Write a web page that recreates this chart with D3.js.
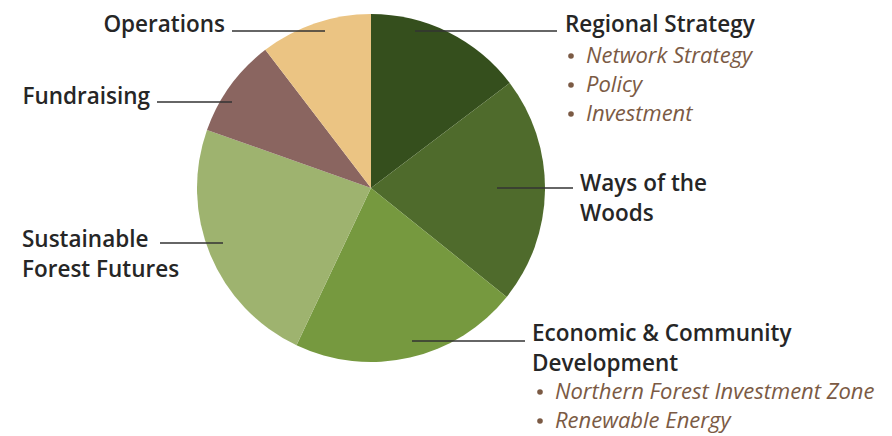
<!DOCTYPE html>
<html lang="en">
<head>
<meta charset="UTF-8"/>
<title>Program areas pie</title>
<script src="https://d3js.org/d3.v7.min.js"></script>
<style>
  body { margin: 0; background: #fff; }
  .lbl { font-family: "Open Sans", sans-serif; font-size: 22.5px; font-weight: 600; fill: #262626; }
  .sub { font-family: "Open Sans", sans-serif; font-size: 22px; font-style: italic; fill: #7b5a44; }
</style>
</head>
<body>
<div id="chart"></div>
<script>
// slice shares (percent), clockwise from 12 o'clock
var categories = ["Regional Strategy", "Ways of the Woods", "Economic & Community Development",
                  "Sustainable Forest Futures", "Fundraising", "Operations"];
var values = [14.7, 21.1, 21.3, 23.4, 9.2, 10.4];
var colors = ["#354f1d", "#4f6b2c", "#76993f", "#9eb36f", "#8a6560", "#ebc483"];
var subItems = [["Network Strategy", "Policy", "Investment"], [], ["Northern Forest Investment Zone", "Renewable Energy"], [], [], []];

var w = 892, h = 436;
var cx = 371, cy = 188, r = 174;

var svg = d3.select("#chart").append("svg")
    .attr("width", w).attr("height", h);

var pie = d3.pie().sort(null).value(function(d) { return d; });
var arc = d3.arc().innerRadius(0).outerRadius(r);

var g = svg.append("g").attr("transform", "translate(" + cx + "," + cy + ")");
g.selectAll("path")
    .data(pie(values))
    .enter().append("path")
    .attr("d", arc)
    .attr("fill", function(d, i) { return colors[i]; });

// label layout: text lines, anchor, leader line
var layout = [
  {lines: ["Regional Strategy"], x: 565, y: 32, anchor: "start", lx1: 415, lx2: 557, ly: 31, sx: 571, sy: 63, gap: 29},
  {lines: ["Ways of the", "Woods"], x: 580, y: 191, anchor: "start", lx1: 497, lx2: 573, ly: 188},
  {lines: ["Economic & Community", "Development"], x: 532, y: 341, anchor: "start", lx1: 412, lx2: 525, ly: 341, sx: 540, sy: 399, gap: 29},
  {lines: ["Sustainable", "Forest Futures"], x: 22, y: 247, anchor: "start", lx1: 160, lx2: 223, ly: 243},
  {lines: ["Fundraising"], x: 150, y: 104, anchor: "end", lx1: 157, lx2: 232, ly: 102},
  {lines: ["Operations"], x: 225, y: 32, anchor: "end", lx1: 232, lx2: 325, ly: 31}
];

layout.forEach(function(L, i) {
  svg.append("line")
      .attr("x1", L.lx1).attr("x2", L.lx2)
      .attr("y1", L.ly).attr("y2", L.ly)
      .attr("stroke", "#333").attr("stroke-width", 1.5);
  var t = svg.append("text").attr("class", "lbl")
      .attr("x", L.x).attr("y", L.y).attr("text-anchor", L.anchor);
  L.lines.forEach(function(s, k) {
    t.append("tspan").attr("x", L.x).attr("dy", k === 0 ? 0 : 29.5).text(s);
  });
  subItems[i].forEach(function(s, k) {
    var yy = L.sy + k * L.gap;
    svg.append("circle").attr("cx", L.sx).attr("cy", yy - 7).attr("r", 2.8).attr("fill", "#7b5a44");
    svg.append("text").attr("class", "sub").attr("x", L.sx + 15).attr("y", yy).text(s);
  });
});
</script>
</body>
</html>
